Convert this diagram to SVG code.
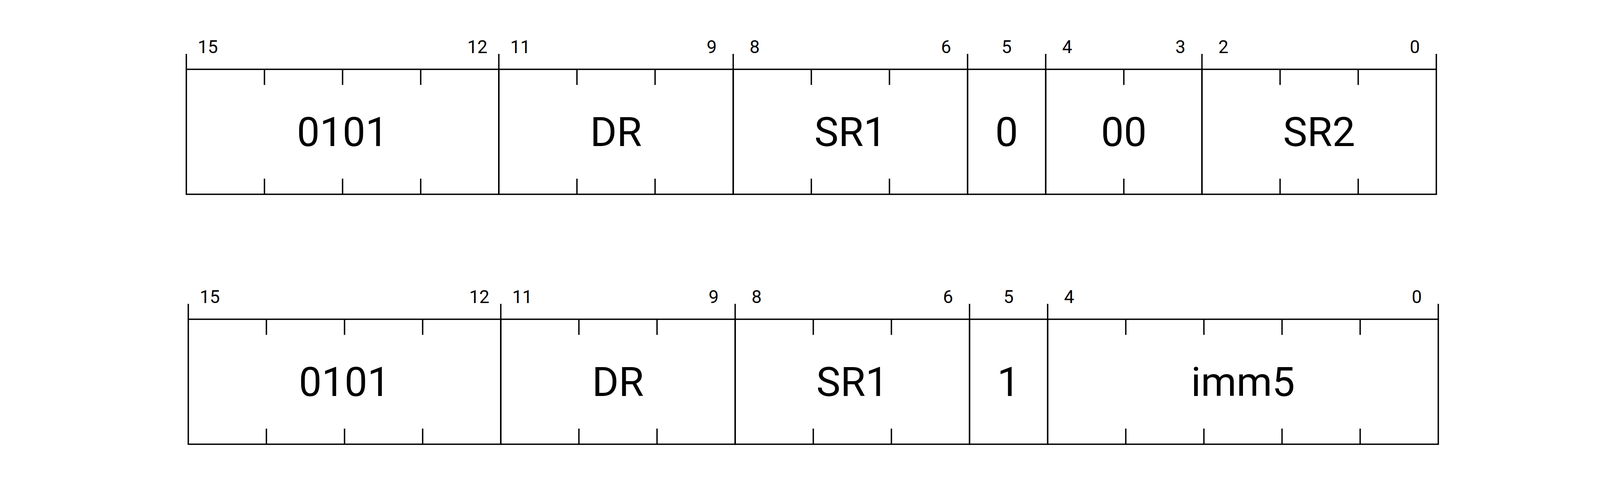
<svg xmlns="http://www.w3.org/2000/svg" width="4160" height="1224" viewBox="0 0 4160 1224">
<style>
.f{fill:none;stroke:#000;stroke-width:3.5}
.l{stroke:#000;stroke-width:3.5;fill:none}
.b{font-family:Roboto,"Liberation Sans",sans-serif;font-size:46px;fill:#000;text-anchor:middle}
.t{font-family:Roboto,"Liberation Sans",sans-serif;font-size:104px;fill:#000;text-anchor:middle}
</style>
<rect width="4160" height="1224" fill="#fff"/>
<g id="row1" transform="translate(477,177.5)">
<g id="r1-opcode">
<rect class="f" x="0" y="0" width="800" height="320"/>
<path class="l" d="M0,-39.5V0M800,-39.5V0M200,0V40M400,0V40M600,0V40M200,280V320M400,280V320M600,280V320"/>
<text class="b" x="55" y="-41.5">15</text><text class="b" x="745" y="-41.5">12</text>
<text class="t" x="400" y="196.5">0101</text>
</g>
<g id="r1-dr">
<rect class="f" x="800" y="0" width="600" height="320"/>
<path class="l" d="M1400,-39.5V0M1000,0V40M1200,0V40M1000,280V320M1200,280V320"/>
<text class="b" x="855" y="-41.5">11</text><text class="b" x="1345" y="-41.5">9</text>
<text class="t" x="1100" y="196.5">DR</text>
</g>
<g id="r1-sr1">
<rect class="f" x="1400" y="0" width="600" height="320"/>
<path class="l" d="M2000,-39.5V0M1600,0V40M1800,0V40M1600,280V320M1800,280V320"/>
<text class="b" x="1455" y="-41.5">8</text><text class="b" x="1945" y="-41.5">6</text>
<text class="t" x="1700" y="196.5">SR1</text>
</g>
<g id="r1-bit5">
<rect class="f" x="2000" y="0" width="200" height="320"/>
<path class="l" d="M2200,-39.5V0"/>
<text class="b" x="2100" y="-41.5">5</text>
<text class="t" x="2100" y="196.5">0</text>
</g>
<g id="r1-zero">
<rect class="f" x="2200" y="0" width="400" height="320"/>
<path class="l" d="M2600,-39.5V0M2400,0V40M2400,280V320"/>
<text class="b" x="2255" y="-41.5">4</text><text class="b" x="2545" y="-41.5">3</text>
<text class="t" x="2400" y="196.5">00</text>
</g>
<g id="r1-sr2">
<rect class="f" x="2600" y="0" width="600" height="320"/>
<path class="l" d="M3200,-39.5V0M2800,0V40M3000,0V40M2800,280V320M3000,280V320"/>
<text class="b" x="2655" y="-41.5">2</text><text class="b" x="3145" y="-41.5">0</text>
<text class="t" x="2900" y="196.5">SR2</text>
</g>
</g>
<g id="row2" transform="translate(482,817.5)">
<g id="r2-opcode">
<rect class="f" x="0" y="0" width="800" height="320"/>
<path class="l" d="M0,-39.5V0M800,-39.5V0M200,0V40M400,0V40M600,0V40M200,280V320M400,280V320M600,280V320"/>
<text class="b" x="55" y="-41.5">15</text><text class="b" x="745" y="-41.5">12</text>
<text class="t" x="400" y="196.5">0101</text>
</g>
<g id="r2-dr">
<rect class="f" x="800" y="0" width="600" height="320"/>
<path class="l" d="M1400,-39.5V0M1000,0V40M1200,0V40M1000,280V320M1200,280V320"/>
<text class="b" x="855" y="-41.5">11</text><text class="b" x="1345" y="-41.5">9</text>
<text class="t" x="1100" y="196.5">DR</text>
</g>
<g id="r2-sr1">
<rect class="f" x="1400" y="0" width="600" height="320"/>
<path class="l" d="M2000,-39.5V0M1600,0V40M1800,0V40M1600,280V320M1800,280V320"/>
<text class="b" x="1455" y="-41.5">8</text><text class="b" x="1945" y="-41.5">6</text>
<text class="t" x="1700" y="196.5">SR1</text>
</g>
<g id="r2-bit5">
<rect class="f" x="2000" y="0" width="200" height="320"/>
<path class="l" d="M2200,-39.5V0"/>
<text class="b" x="2100" y="-41.5">5</text>
<text class="t" x="2100" y="196.5">1</text>
</g>
<g id="r2-imm5">
<rect class="f" x="2200" y="0" width="1000" height="320"/>
<path class="l" d="M3200,-39.5V0M2400,0V40M2600,0V40M2800,0V40M3000,0V40M2400,280V320M2600,280V320M2800,280V320M3000,280V320"/>
<text class="b" x="2255" y="-41.5">4</text><text class="b" x="3145" y="-41.5">0</text>
<text class="t" x="2700" y="196.5">imm5</text>
</g>
</g>
<g id="connectors"/>
</svg>
